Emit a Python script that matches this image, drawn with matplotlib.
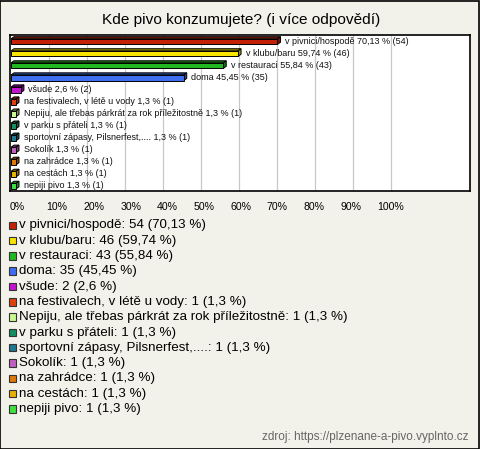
import matplotlib
matplotlib.use("Agg")
import matplotlib.pyplot as plt
from matplotlib.patches import Rectangle, Polygon
from matplotlib.colors import to_rgb

plt.rcParams['font.family'] = ['Liberation Sans', 'DejaVu Sans']

title = "Kde pivo konzumujete? (i více odpovědí)"
labels = ["v pivnici/hospodě", "v klubu/baru", "v restauraci", "doma", "všude",
          "na festivalech, v létě u vody",
          "Nepiju, ale třebas párkrát za rok příležitostně",
          "v parku s přáteli", "sportovní zápasy, Pilsnerfest,....", "Sokolík",
          "na zahrádce", "na cestách", "nepiji pivo"]
counts = [54, 46, 43, 35, 2, 1, 1, 1, 1, 1, 1, 1, 1]
percents = [70.13, 59.74, 55.84, 45.45, 2.6, 1.3, 1.3, 1.3, 1.3, 1.3, 1.3, 1.3, 1.3]
colors = ["#c42008", "#f8e400", "#22b822", "#3f6ff0", "#c414d0", "#e0400c",
          "#c8f890", "#129060", "#1f7890", "#c060c0", "#e07808", "#e8b000", "#40e040"]
xticks = list(range(0, 101, 10))
source = "zdroj: https://plzenane-a-pivo.vyplnto.cz"

W, H = 480, 449
fig = plt.figure(figsize=(W / 100, H / 100), dpi=100, facecolor="#f3f2ea")


def fx(px):
    return px / W


def fy(py):
    return 1 - py / H


# frame round whole picture
fig.patches.append(Rectangle((0.001, 0.001), 0.997, 0.997, transform=fig.transFigure,
                             fill=False, edgecolor="black", linewidth=1.2))

fig.text(fx(241), fy(20), title, ha="center", va="center", fontsize=11.1)

# plot area
ax = fig.add_axes([fx(10), fy(191), fx(460), (191 - 35) / H])
ax.set_facecolor("white")
px_per_pct = 3.8
ax.set_xlim(-1 / px_per_pct, 459 / px_per_pct)
ax.set_ylim(12.45, -0.5)
for v in xticks[1:]:
    ax.axvline(v, color="#c8c8c8", linewidth=0.9, zorder=0)
for s in ax.spines.values():
    s.set_linewidth(1.2)
ax.set_xticks([])
ax.set_yticks([])

bar_h = 0.46
dx, dy = 0.8, 0.18
for i, (p, c, col, lab) in enumerate(zip(percents, counts, colors, labels)):
    dark = tuple(0.6 * v for v in to_rgb(col))
    top = i - bar_h / 2 + 0.05
    # top and side faces
    ax.add_patch(Polygon([(0, top), (p, top), (p + dx, top - dy), (dx, top - dy)],
                         closed=True, facecolor=dark, edgecolor="black", linewidth=0.7, zorder=2))
    ax.add_patch(Polygon([(p, top), (p + dx, top - dy), (p + dx, top - dy + bar_h), (p, top + bar_h)],
                         closed=True, facecolor=dark, edgecolor="black", linewidth=0.7, zorder=2))
    ax.barh(i + 0.05, p, height=bar_h, color=col, edgecolor="black", linewidth=0.7, zorder=3)
    pct = f"{p:g}".replace(".", ",")
    ax.text(p + dx + 1.2, i, f"{lab} {pct} % ({c})", fontsize=6.5, va="center", ha="left",
            color="#111111", zorder=4)

# tick labels under the plot
for k, t in enumerate(xticks):
    fig.text(fx(10 + 36.7 * k), fy(207), f"{t}%", ha="left", va="center", fontsize=7.6)

# legend
for i, (p, c, col, lab) in enumerate(zip(percents, counts, colors, labels)):
    y = 225.5 + 15.3 * i
    fig.patches.append(Rectangle((fx(8.5), fy(y + 3.5)), fx(7.5), 7.5 / H, transform=fig.transFigure,
                                 facecolor=col, edgecolor="#333333", linewidth=0.8))
    pct = f"{p:g}".replace(".", ",")
    fig.text(fx(19), fy(y), f"{lab}: {c} ({pct} %)", ha="left", va="center", fontsize=9.6)

fig.text(fx(469), fy(437), source, ha="right", va="center", fontsize=8.5, color="#666666")

fig.savefig("out.png", dpi=100, facecolor=fig.get_facecolor())
